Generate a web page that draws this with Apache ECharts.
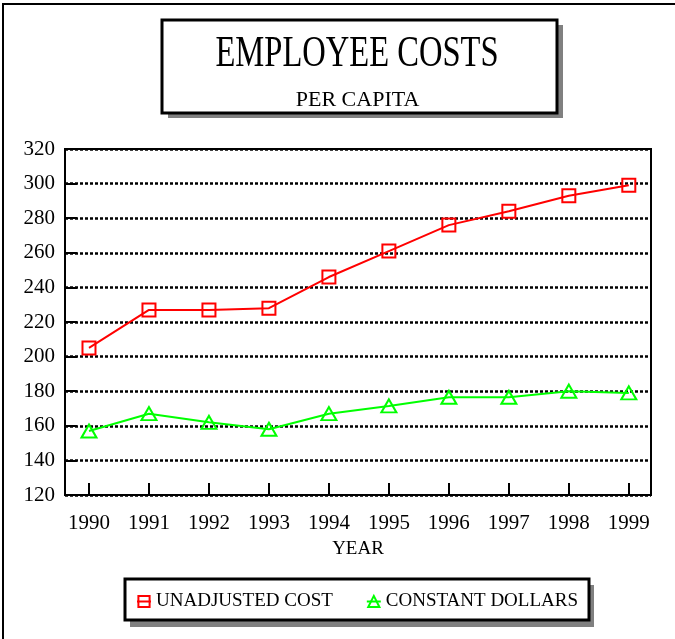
<!DOCTYPE html>
<html>
<head>
<meta charset="utf-8">
<script src="https://cdn.jsdelivr.net/npm/echarts@6/dist/echarts.min.js"></script>
<style>
html,body{margin:0;padding:0;background:#fff;}
#chart{width:675px;height:639px;}
</style>
</head>
<body>
<div id="chart"></div>
<script>
const years = [1990, 1991, 1992, 1993, 1994, 1995, 1996, 1997, 1998, 1999];
const unadjusted = [205, 227, 227, 228, 246, 261, 276, 284, 293, 299];
const constant = [157, 167, 162, 158, 167, 171.5, 176.5, 176.5, 180, 179];
const yTicks = [120, 140, 160, 180, 200, 220, 240, 260, 280, 300, 320];
const titleText = 'EMPLOYEE COSTS';
const subtitleText = 'PER CAPITA';
const seriesNames = ['UNADJUSTED COST', 'CONSTANT DOLLARS'];
const xName = 'YEAR';

const FONT = '"Liberation Serif", "Times New Roman", serif';
const chart = echarts.init(document.getElementById('chart'), null, {renderer: 'canvas'});

const pairs = (vals) => years.map((y, i) => [y, vals[i]]);

chart.setOption({
  backgroundColor: '#fff',
  animation: false,
  grid: {left: 65, top: 149, right: 24, bottom: 144, show: true, borderColor: '#000', borderWidth: 2, containLabel: false},
  xAxis: {
    type: 'value', min: 1989.6, max: 1999.37,
    name: xName, nameLocation: 'middle', nameGap: 45,
    nameTextStyle: {fontFamily: FONT, fontSize: 19, color: '#000'},
    axisLine: {show: true, lineStyle: {color: '#000', width: 2}},
    axisTick: {show: true, inside: true, length: 12, lineStyle: {color: '#000', width: 2}, customValues: years},
    axisLabel: {fontFamily: FONT, fontSize: 21, color: '#000', margin: 18, customValues: years, formatter: (v) => String(v)},
    splitLine: {show: false}
  },
  yAxis: {
    type: 'value', min: yTicks[0], max: yTicks[yTicks.length - 1], interval: 20,
    axisLine: {show: true, lineStyle: {color: '#000', width: 2}},
    axisTick: {show: true, inside: true, length: 12, lineStyle: {color: '#000', width: 2}},
    axisLabel: {fontFamily: FONT, fontSize: 21, color: '#000', margin: 10},
    splitLine: {show: true, lineStyle: {color: '#000', width: 2.5, type: [3, 2]}}
  },
  legend: {
    left: 136, top: 592, padding: 0, itemGap: 33, itemWidth: 14, itemHeight: 14,
    textStyle: {fontFamily: FONT, fontSize: 19, color: '#000'},
    data: seriesNames
  },
  series: [
    {
      name: seriesNames[0], type: 'line', data: pairs(unadjusted),
      symbol: 'rect', symbolSize: 13,
      lineStyle: {color: '#ff0000', width: 2},
      itemStyle: {color: 'rgba(255,255,255,0)', borderColor: '#ff0000', borderWidth: 2}
    },
    {
      name: seriesNames[1], type: 'line', data: pairs(constant),
      symbol: 'triangle', symbolSize: [15, 13],
      lineStyle: {color: '#00ff00', width: 2},
      itemStyle: {color: 'rgba(255,255,255,0)', borderColor: '#00ff00', borderWidth: 2}
    }
  ],
  graphic: [
    {type: 'rect', shape: {x: 3, y: 4, width: 800, height: 800}, style: {fill: 'none', stroke: '#000', lineWidth: 2}, z: 0, silent: true},
    {type: 'rect', shape: {x: 168, y: 25, width: 395, height: 93}, style: {fill: '#808080'}, z: 1, silent: true},
    {type: 'rect', shape: {x: 162, y: 20, width: 395, height: 93}, style: {fill: '#fff', stroke: '#000', lineWidth: 3}, z: 2, silent: true},
    {type: 'text', x: 357, y: 54, scaleX: 0.74, z: 3, silent: true,
      style: {text: titleText, x: 0, y: 0, fill: '#000', font: '44px ' + FONT, textAlign: 'center', textVerticalAlign: 'middle'}},
    {type: 'text', x: 357.5, y: 100, z: 3, silent: true,
      style: {text: subtitleText, x: 0, y: 0, fill: '#000', font: '22px ' + FONT, textAlign: 'center', textVerticalAlign: 'middle'}},
    {type: 'rect', shape: {x: 130, y: 585, width: 464, height: 42}, style: {fill: '#808080'}, z: -1, silent: true},
    {type: 'rect', shape: {x: 125, y: 579, width: 464, height: 41}, style: {fill: '#fff', stroke: '#000', lineWidth: 3}, z: -1, silent: true}
  ]
});
</script>
</body>
</html>
